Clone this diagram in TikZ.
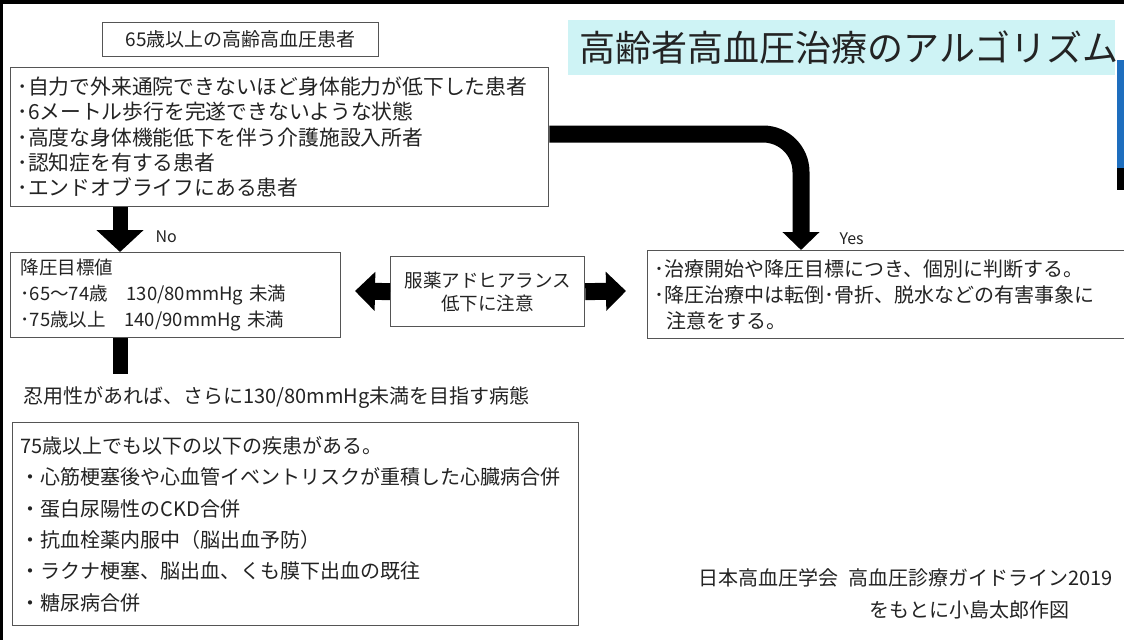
\documentclass[tikz,border=0pt]{standalone}
\usepackage{fontspec}
\setmainfont{Noto Sans CJK JP}
\usetikzlibrary{arrows.meta,positioning}
\definecolor{titleCyan}{RGB}{206,243,245}
\definecolor{frameGray}{RGB}{85,85,85}
\definecolor{textGray}{RGB}{35,35,35}
\definecolor{screenBlue}{RGB}{30,110,190}
\newcommand{\fsize}[2]{\fontsize{#1}{#2}\selectfont}

\begin{document}
\begin{tikzpicture}[x=1pt,y=-1pt,%%
  boxStyle/.style={draw=frameGray,line width=1.3pt,fill=white,text=textGray,%%
    anchor=north west,align=left,inner ysep=0pt},%%
  downArrowStyle/.style={line width=15pt,-{Triangle[width=46pt,length=22pt]}},%%
  yesArrowStyle/.style={line width=17pt,rounded corners=38pt,%%
    -{Triangle[width=36pt,length=18pt]}},%%
  sideArrowStyle/.style={line width=17pt,-{Triangle[width=38pt,length=20pt]}},%%
  labelStyle/.style={text=textGray,anchor=west}%%
]
\useasboundingbox (0,0) rectangle (1124,640);
%%
%% Screen edges.
\fill[black] (0,0) rectangle (1124,4);
\fill[black] (0,0) rectangle (2.5,640);
\fill[screenBlue] (1117,60) rectangle (1124,168);
\fill[black] (1117,168) rectangle (1124,190);
%%
%% Title band.
\fill[titleCyan] (568,20) rectangle (1115,75);
\node[labelStyle,font=\fsize{36}{40}] (title) at (576,48) {高齢者高血圧治療のアルゴリズム};
%%
%% Boxes.
\node[boxStyle,align=center,minimum width=276pt,minimum height=34pt,%%
  font=\fsize{19}{22}] (patients) at (102,22) {65歳以上の高齢高血圧患者};
\node[boxStyle,minimum width=538pt,minimum height=139pt,text width=524pt,%%
  inner xsep=7pt,font=\fsize{20.8}{25.3}] (criteria) at (10,67)
  {･自力で外来通院できないほど身体能力が低下した患者\\
   ･6メートル歩行を完遂できないような状態\\
   ･高度な身体機能低下を伴う介護施設入所者\\
   ･認知症を有する患者\\
   ･エンドオブライフにある患者};
\node[boxStyle,minimum width=330pt,minimum height=85pt,text width=310pt,%%
  inner xsep=10pt,font=\fsize{18.5}{26}] (target) at (10,252)
  {降圧目標値\\
   ･65～74歳\quad 130/80mmHg 未満\\
   ･75歳以上\quad 140/90mmHg 未満};
\node[boxStyle,align=center,minimum width=194pt,minimum height=70pt,%%
  font=\fsize{18.5}{23}] (adherence) at (390,256)
  {服薬アドヒアランス\\低下に注意};
\node[boxStyle,minimum width=490pt,minimum height=88pt,text width=476pt,%%
  inner xsep=6pt,font=\fsize{20}{26}] (individual) at (647,250)
  {･治療開始や降圧目標につき、個別に判断する。\\
   ･降圧治療中は転倒･骨折、脱水などの有害事象に\\
   \hspace*{0.6em}注意をする。};
\node[labelStyle,font=\fsize{20}{24}] (tolerance) at (20,398)
  {忍用性があれば、さらに130/80mmHg未満を目指す病態};
\node[boxStyle,minimum width=566pt,minimum height=203pt,text width=550pt,%%
  inner xsep=8pt,font=\fsize{20}{31.4}] (diseases) at (12,422)
  {75歳以上でも以下の以下の疾患がある。\\
   ・心筋梗塞後や心血管イベントリスクが重積した心臓病合併\\
   ・蛋白尿陽性のCKD合併\\
   ・抗血栓薬内服中（脳出血予防）\\
   ・ラクナ梗塞、脳出血、くも膜下出血の既往\\
   ・糖尿病合併};
%%
%% Connectors.
\coordinate (barEnd) at (120,374);
\coordinate (leftTip) at (355,291);
\coordinate (rightTip) at (626,291);
\draw[downArrowStyle] ([xshift=110pt]criteria.south west)
  -- ([xshift=110pt]target.north west);
\draw[line width=15pt] ([xshift=110pt]target.south west) -- (barEnd);
\draw[yesArrowStyle] ([yshift=-67pt]criteria.north east)
  -| ([xshift=154pt]individual.north west);
\draw[sideArrowStyle] (adherence.west) -- (leftTip);
\draw[sideArrowStyle] (adherence.east) -- (rightTip);
\node[labelStyle,font=\fsize{16}{18}] (noLabel) at (152,237) {No};
\node[labelStyle,font=\fsize{16}{18}] (yesLabel) at (836,239) {Yes};
%%
%% Source.
\node[labelStyle,font=\fsize{20}{24}] (source) at (695,578)
  {日本高血圧学会\enspace 高血圧診療ガイドライン2019};
\node[labelStyle,font=\fsize{20}{24}] (author) at (866,610)
  {をもとに小島太郎作図};
\end{tikzpicture}
\end{document}
